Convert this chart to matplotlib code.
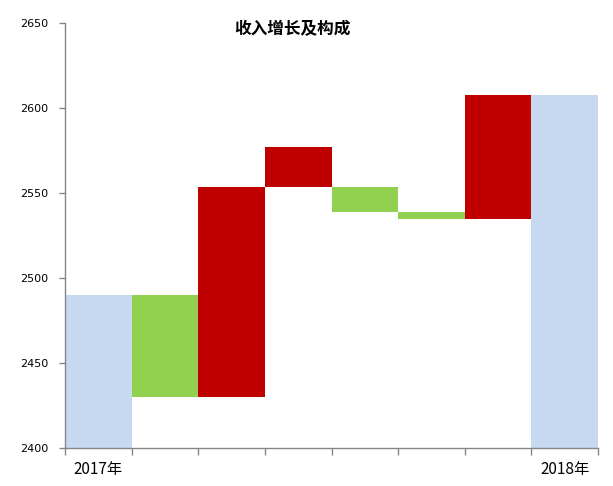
import matplotlib
matplotlib.use("Agg")
import matplotlib.pyplot as plt
import numpy as np

plt.rcParams['font.family'] = ['Noto Sans CJK SC', 'DejaVu Sans']

categories = ['2017年', '', '', '', '', '', '', '2018年']
lows = [2400, 2430, 2430, 2554, 2539, 2535, 2535, 2400]
highs = [2490, 2490, 2554, 2577, 2554, 2539, 2608, 2608]
bar_types = ['total', 'down', 'up', 'up', 'down', 'down', 'up', 'total']
title = '收入增长及构成'

color_map = {'total': '#C6D9F1', 'down': '#92D050', 'up': '#C00000'}

fig = plt.figure(figsize=(6.13, 4.86), dpi=100)
W, H = 613, 486
ax = fig.add_axes([65 / W, (H - 448.3) / H, (598 - 65) / W, (448.3 - 23.3) / H])

x = np.arange(len(categories))
heights = np.array(highs) - np.array(lows)
ax.bar(x, heights, bottom=lows, width=1.0,
       color=[color_map[t] for t in bar_types], linewidth=0)

ax.set_xlim(-0.5, len(categories) - 0.5)
ax.set_ylim(2400, 2650)
ax.set_yticks(np.arange(2400, 2651, 50))

ax.set_xticks(np.arange(-0.5, len(categories), 1.0))
ax.set_xticklabels([])
ax.set_xticks(x, minor=True)
ax.set_xticklabels(categories, minor=True, fontsize=11, family=['Noto Sans CJK SC', 'DejaVu Sans'])
ax.tick_params(axis='x', which='minor', length=0, pad=9)
ax.tick_params(axis='x', which='major', length=5, width=1, color='#868686', direction='out')
ax.tick_params(axis='y', length=4, width=1, color='#868686', direction='out', pad=8, labelsize=8)
for lab in ax.get_yticklabels():
    lab.set_family('DejaVu Sans')

for s in ['top', 'right']:
    ax.spines[s].set_visible(False)
for s in ['left', 'bottom']:
    ax.spines[s].set_color('#868686')
    ax.spines[s].set_linewidth(1)

fig.text(292 / W, (H - 29) / H, title, fontsize=12, fontweight='bold', ha='center', va='center')

fig.savefig('out.png', dpi=100)
